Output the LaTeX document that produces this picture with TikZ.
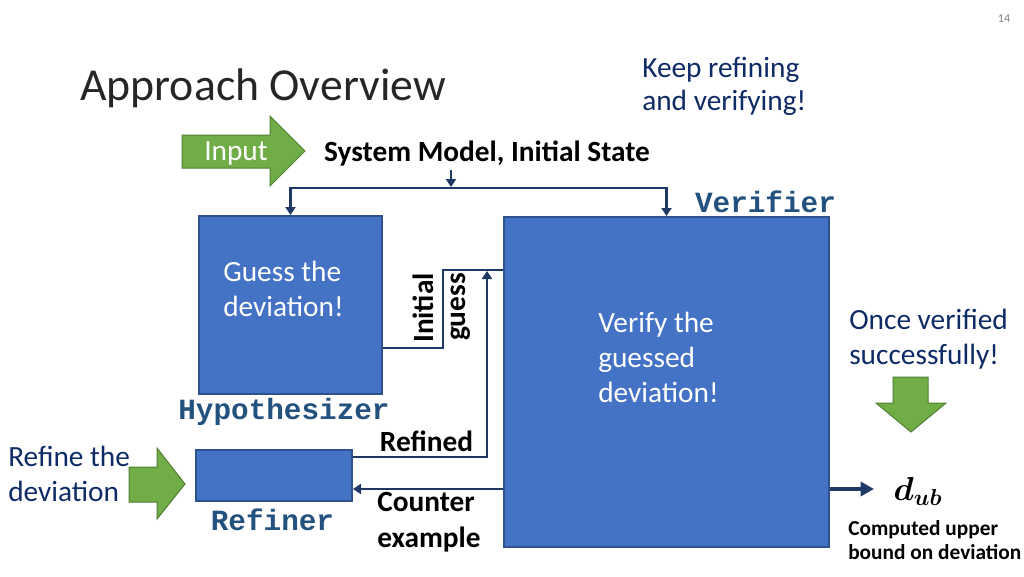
\documentclass[tikz,border=0pt]{standalone}
\usepackage{fontspec}
\usepackage{amsmath}
\usepackage{bm}
\setmainfont{Carlito}
\newfontfamily\monofont{Liberation Mono}
\usetikzlibrary{arrows.meta}
\definecolor{boxfill}{HTML}{4472C4}
\definecolor{boxedge}{HTML}{2F528F}
\definecolor{navy}{HTML}{1F3864}
\definecolor{gfill}{HTML}{70AD47}
\definecolor{gedge}{HTML}{507E32}
\definecolor{dblue}{HTML}{0F2B66}
\definecolor{monoblue}{HTML}{24527F}
\definecolor{titlegray}{HTML}{262626}
\tikzset{
  blockbox/.style={draw=boxedge, line width=1.5pt, fill=boxfill, inner sep=0pt, anchor=north west},
  conn/.style={draw=navy, line width=2.1pt},
  arr/.style={-{Triangle[width=7.5pt,length=6pt]}},
  bigarr/.style={draw=navy, line width=3pt, -{Triangle[width=10.5pt,length=10pt]}},
  greenarrow/.style={fill=gfill, draw=gedge, line width=0.75pt},
  txt/.style={inner sep=0pt, font=\fontsize{22}{26.25}\selectfont},
  boldtxt/.style={inner sep=0pt, font=\fontsize{22}{27}\selectfont\bfseries},
  monolabel/.style={inner sep=0pt, text=monoblue, font=\fontsize{22}{26}\selectfont\monofont\bfseries},
  bluenote/.style={txt, text=dblue, align=left, anchor=west},
}
\begin{document}
\begin{tikzpicture}[x=0.75pt, y=-0.75pt]
\useasboundingbox (0,0) rectangle (1024,576);

% page number and title
\node[inner sep=0pt, text=gray, font=\fontsize{9}{10}\selectfont] (pnum) at (1004,19) {14};
\node[inner sep=0pt, anchor=west, text=titlegray, font=\fontsize{34.3}{40}\selectfont] (title) at (80,88) {Approach Overview};

% notes
\node[bluenote, font=\fontsize{22}{24.75}\selectfont] (keep) at (642,86.5) {Keep refining\\and verifying!};
\node[bluenote] (once) at (849,339) {Once verified\\successfully!};
\node[bluenote] (refnote) at (8,473.5) {Refine the\\deviation};

% green arrows
\draw[greenarrow] (182,135) -- (270,135) -- (270,116) -- (305,151) -- (270,186) -- (270,168) -- (182,168) -- cycle;
\draw[greenarrow] (129,467) -- (157,467) -- (157,448) -- (185,484) -- (157,519) -- (157,502) -- (129,502) -- cycle;
\draw[greenarrow] (893,377) -- (928,377) -- (928,403) -- (946,403) -- (911,432) -- (876,403) -- (893,403) -- cycle;
\node[txt, text=white] (input) at (236,153) {Input};

% system model
\node[boldtxt] (sys) at (487,153.5) {System Model, Initial State};

% blocks
\node[blockbox, minimum width=137.25pt, minimum height=133.5pt] (hyp) at (198,215) {};
\node[blockbox, minimum width=243.75pt, minimum height=247.5pt] (ver) at (503,216) {};
\node[blockbox, minimum width=117pt, minimum height=38.25pt] (ref) at (195,449) {};

\node[txt, text=white, align=left, anchor=west] (guess) at (223,288.5) {Guess the\\deviation!};
\node[txt, text=white, align=left, anchor=west] (verify) at (598,357) {Verify the\\guessed\\deviation!};

% labels
\node[monolabel] (verlab) at (765.5,202) {Verifier};
\node[monolabel] (hyplab) at (284,412) {Hypothesizer};
\node[monolabel] (reflab) at (272.5,520) {Refiner};
\node[boldtxt, rotate=90] (initial) at (423,308) {Initial};
\node[boldtxt, rotate=90] (guesslab) at (461,307) {guess};
\node[boldtxt] (refined) at (426.5,441) {Refined};
\node[boldtxt, align=left, anchor=west] (counter) at (377,522) {Counter\\example};
\node[inner sep=0pt, font=\fontsize{26}{30}\selectfont] (dub) at (918,491) {$\bm{d_{ub}}$};
\node[inner sep=0pt, align=left, anchor=west, font=\fontsize{16}{18}\selectfont\bfseries] (computed) at (848,540) {Computed upper\\bound on deviation};

% connectors
\coordinate (splitin) at (451,170);
\coordinate (split) at (451,187);
\coordinate (igA) at (443,348);
\coordinate (igB) at (443,270);
\coordinate (rfA) at (487,457);
\coordinate (rfB) at (487,271);
\coordinate (ce) at (0,489);
\coordinate (out) at (874,489);

\draw[conn, arr] (splitin) -- (split);
\draw[conn, {Triangle[width=7.5pt,length=6pt]}-{Triangle[width=7.5pt,length=6pt]}] (hyp.north) -- ++(0,-27) -| (ver.north);
\draw[conn] (hyp.east |- igA) -- (igA) -- (igB) -- (ver.west |- igB);
\draw[conn, arr] (ref.east |- rfA) -- (rfA) -- (rfB);
\draw[conn, arr] (ver.west |- ce) -- (ref.east |- ce);
\draw[bigarr] (ver.east |- ce) -- (out);
\end{tikzpicture}
\end{document}
